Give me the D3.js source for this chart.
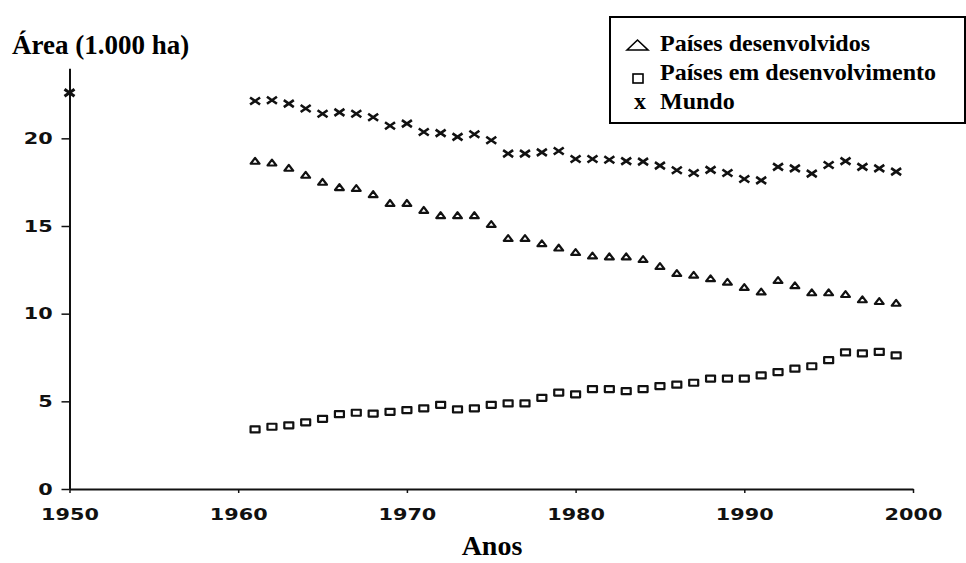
<!DOCTYPE html>
<html>
<head>
<meta charset="UTF-8">
<title>Área (1.000 ha)</title>
<script src="https://cdn.jsdelivr.net/npm/d3@7"></script>
<style>
  body { margin: 0; background: #fff; }
</style>
</head>
<body>
<svg width="966" height="563"></svg>
<script>
// valores
var anos = [1961, 1962, 1963, 1964, 1965, 1966, 1967, 1968, 1969, 1970,
            1971, 1972, 1973, 1974, 1975, 1976, 1977, 1978, 1979, 1980,
            1981, 1982, 1983, 1984, 1985, 1986, 1987, 1988, 1989, 1990,
            1991, 1992, 1993, 1994, 1995, 1996, 1997, 1998, 1999];
var desenvolvidos = [18.7, 18.6, 18.3, 17.9, 17.5, 17.2, 17.15, 16.8, 16.3, 16.3,
                     15.9, 15.6, 15.6, 15.6, 15.1, 14.3, 14.3, 14.0, 13.75, 13.5,
                     13.3, 13.25, 13.25, 13.1, 12.7, 12.3, 12.2, 12.0, 11.8, 11.5,
                     11.25, 11.9, 11.6, 11.2, 11.2, 11.1, 10.8, 10.7, 10.6];
var emDesenvolvimento = [3.4, 3.55, 3.63, 3.8, 4.0, 4.27, 4.35, 4.3, 4.4, 4.5,
                         4.6, 4.8, 4.54, 4.6, 4.8, 4.88, 4.88, 5.2, 5.5, 5.4,
                         5.7, 5.7, 5.58, 5.7, 5.87, 5.95, 6.06, 6.3, 6.3, 6.3,
                         6.48, 6.67, 6.86, 7.0, 7.35, 7.79, 7.73, 7.82, 7.62];
var mundo = [22.13, 22.17, 21.98, 21.7, 21.4, 21.48, 21.4, 21.2, 20.72, 20.84,
             20.36, 20.3, 20.08, 20.23, 19.89, 19.13, 19.13, 19.2, 19.28, 18.82,
             18.82, 18.78, 18.7, 18.67, 18.44, 18.18, 18.02, 18.2, 18.02, 17.68,
             17.6, 18.37, 18.29, 17.99, 18.48, 18.7, 18.37, 18.29, 18.1];
// marca isolada sobre o eixo em 1950
var mundoAnoExtra = [1950];
var mundoValorExtra = [22.6];

var ticksX = [1950, 1960, 1970, 1980, 1990, 2000];
var ticksY = [0, 5, 10, 15, 20];

var legendaNomes = ["Países desenvolvidos", "Países em desenvolvimento", "Mundo"];

var svg = d3.select("svg");

var x = d3.scaleLinear().domain([1950, 2000]).range([69.5, 913]);
var y = d3.scaleLinear().domain([0, 24]).range([489, 68.2]);

var tinta = "#111";

// eixo x
var gx = svg.append("g")
    .attr("transform", "translate(0," + y(0) + ")")
    .call(d3.axisBottom(x).tickValues(ticksX).tickFormat(d3.format("d"))
      .tickSize(4).tickSizeOuter(0));
gx.select(".domain").attr("stroke", tinta).attr("stroke-width", 2);
gx.selectAll(".tick line").attr("stroke", tinta).attr("stroke-width", 1.5);
gx.selectAll("text")
    .attr("y", 31).attr("dy", null)
    .attr("transform", "scale(1.3,1)")
    .attr("font-family", "DejaVu Sans").attr("font-weight", "bold")
    .attr("font-size", 16).attr("fill", tinta);

// eixo y
var gy = svg.append("g")
    .attr("transform", "translate(" + x(1950) + ",0)")
    .call(d3.axisLeft(y).tickValues(ticksY).tickSize(8).tickPadding(5).tickSizeOuter(0));
gy.select(".domain").attr("stroke", tinta).attr("stroke-width", 2);
gy.selectAll(".tick line").attr("stroke", tinta).attr("stroke-width", 1.5);
gy.selectAll("text")
    .attr("transform", "scale(1.3,1)")
    .attr("font-family", "DejaVu Sans").attr("font-weight", "bold")
    .attr("font-size", 16).attr("fill", tinta);

// marcadores
var formaTriangulo = "M0,-3.2L4.4,2.6L-4.4,2.6Z";
var formaQuadrado = "M-4.5,-3L4.5,-3L4.5,3L-4.5,3Z";
var formaX = "M-5,-3.5L5,3.5M-5,3.5L5,-3.5";

function desenha(anosSerie, valores, forma, largura) {
  svg.append("g")
    .selectAll("path")
    .data(valores)
    .enter().append("path")
      .attr("transform", function(d, i) { return "translate(" + x(anosSerie[i]) + "," + y(d) + ")"; })
      .attr("d", forma)
      .attr("fill", "none")
      .attr("stroke", tinta)
      .attr("stroke-width", largura)
      .attr("stroke-linejoin", "round");
}

desenha(anos, desenvolvidos, formaTriangulo, 2.2);
desenha(anos, emDesenvolvimento, formaQuadrado, 2.2);
desenha(anos, mundo, formaX, 2.6);
desenha(mundoAnoExtra, mundoValorExtra, formaX, 3);

// rótulo do eixo y (caixa branca)
svg.append("rect")
    .attr("x", 0).attr("y", 19).attr("width", 228).attr("height", 49)
    .attr("fill", "#fff");
svg.append("text")
    .attr("x", 12).attr("y", 54)
    .attr("font-family", "Liberation Serif").attr("font-weight", "bold")
    .attr("font-size", 27).attr("fill", "#000")
    .text("Área (1.000 ha)");

// rótulo do eixo x
svg.append("text")
    .attr("x", 492).attr("y", 555)
    .attr("text-anchor", "middle")
    .attr("font-family", "Liberation Serif").attr("font-weight", "bold")
    .attr("font-size", 28).attr("fill", "#000")
    .text("Anos");

// legenda
var legenda = svg.append("g");
legenda.append("rect")
    .attr("x", 610).attr("y", 17).attr("width", 355).attr("height", 106)
    .attr("fill", "#fff").attr("stroke", "#000").attr("stroke-width", 2);

var itens = legenda.selectAll("g.item")
    .data(legendaNomes)
    .enter().append("g")
      .attr("class", "item")
      .attr("transform", function(d, i) { return "translate(0," + (51 + i * 29) + ")"; });

itens.append("text")
    .attr("x", 660)
    .attr("font-family", "Liberation Serif").attr("font-weight", "bold")
    .attr("font-size", 24).attr("fill", "#000")
    .text(function(d) { return d; });

legenda.append("path")
    .attr("d", "M627,50L637.5,40L648,50Z")
    .attr("fill", "none").attr("stroke", "#000").attr("stroke-width", 1.6);
legenda.append("rect")
    .attr("x", 633).attr("y", 74).attr("width", 10).attr("height", 9)
    .attr("fill", "none").attr("stroke", "#000").attr("stroke-width", 1.6);
legenda.append("text")
    .attr("x", 634).attr("y", 109)
    .attr("font-family", "Liberation Serif").attr("font-weight", "bold")
    .attr("font-size", 24).attr("fill", "#000")
    .text("x");
</script>
</body>
</html>
